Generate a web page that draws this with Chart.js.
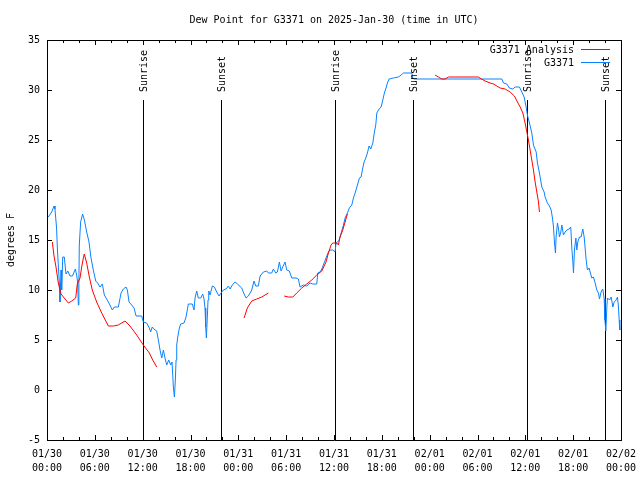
<!DOCTYPE html>
<html>
<head>
<meta charset="utf-8">
<title>Dew Point for G3371</title>
<script src="https://cdn.jsdelivr.net/npm/chart.js@4.4.1/dist/chart.umd.min.js"></script>
<style>
  html, body { margin: 0; padding: 0; background: #fff; }
</style>
</head>
<body>
<canvas id="chart" width="640" height="480"></canvas>
<script>
// Hours since 2025-01-30 00:00 UTC, dew point in degrees F
const obsHours = [
  0.16, 0.59, 0.88, 1.0, 1.2, 1.3, 1.45, 1.55, 1.63, 1.76, 1.84, 1.97, 2.17, 2.38, 2.6, 2.89,
  3.2, 3.55, 3.72, 3.85, 3.93, 4.0, 4.05, 4.22, 4.47, 4.69, 4.98, 5.27, 5.52, 5.81, 6.11, 6.36,
  6.65, 6.94, 7.19, 7.7, 8.2, 8.45, 8.95, 9.29, 9.58, 9.91, 10.08, 10.29, 10.62, 10.92, 11.17, 11.88,
  12.08, 12.5, 12.84, 13.0, 13.2, 13.55, 13.76, 13.97, 14.18, 14.39, 14.6, 14.8, 15.02, 15.27, 15.52, 15.68,
  15.85, 15.98, 16.1, 16.19, 16.27, 16.4, 16.6, 16.77, 17.19, 17.44, 17.73, 18.23, 18.44, 18.57, 18.78, 18.98,
  19.28, 19.53, 19.7, 19.82, 19.91, 19.99, 20.11, 20.2, 20.29, 20.45, 20.74, 20.99, 21.29, 21.58, 21.83, 22.12,
  22.46, 22.75, 22.96, 23.25, 23.59, 23.88, 24.43, 24.72, 24.97, 25.26, 25.68, 25.97, 26.18, 26.51, 26.73, 27.14,
  27.57, 27.77, 28.19, 28.39, 28.7, 28.9, 29.15, 29.36, 29.57, 29.86, 30.07, 30.4, 30.7, 31.24, 31.53, 31.74,
  32.16, 32.58, 33.0, 33.34, 33.84, 33.96, 34.25, 34.47, 34.76, 35.0, 35.3, 35.5, 35.85, 36.13, 36.26, 36.6,
  36.9, 37.18, 37.39, 37.68, 37.93, 38.23, 38.44, 38.65, 38.94, 39.19, 39.4, 39.56, 39.77, 39.99, 40.19, 40.4,
  40.62, 40.87, 41.07, 41.24, 41.37, 41.66, 41.91, 42.12, 42.32, 42.53, 42.7, 42.91, 43.45, 44.08, 44.42, 44.71,
  45.76, 45.88, 46.0, 57.05, 57.26, 57.68, 58.0, 58.43, 58.72, 59.26, 59.56, 59.85, 60.1, 60.26, 60.52, 60.81,
  61.02, 61.36, 61.52, 61.77, 62.07, 62.36, 62.48, 62.77, 63.02, 63.24, 63.4, 63.53, 63.66, 63.78, 63.86, 64.03,
  64.15, 64.28, 64.45, 64.58, 64.78, 64.99, 65.2, 65.5, 65.7, 65.83, 65.96, 66.04, 66.16, 66.34, 66.46, 66.58,
  66.79, 67.0, 67.21, 67.38, 67.5, 67.63, 67.79, 68.0, 68.13, 68.34, 68.54, 68.76, 68.97, 69.17, 69.3, 69.47,
  69.6, 69.72, 69.89, 69.98, 70.1, 70.22, 70.3, 70.55, 70.77, 70.98, 71.14, 71.39, 71.56, 71.68, 71.77, 71.85
];
const obsValues = [
  17.3, 17.8, 18.4, 18.1, 16.2, 14.2, 12.0, 10.7, 8.8, 12.0, 10.0, 13.3, 13.3, 11.6, 11.9, 11.4,
  11.4, 12.1, 11.5, 10.7, 8.5, 10.7, 14.5, 16.8, 17.6, 17.0, 15.8, 14.8, 13.2, 12.0, 10.9, 10.7,
  10.3, 10.6, 9.5, 8.8, 8.0, 8.3, 8.3, 9.7, 10.1, 10.3, 10.0, 8.8, 8.5, 8.2, 7.4, 7.4,
  6.8, 6.7, 6.2, 5.8, 6.3, 6.0, 5.9, 5.0, 4.0, 3.2, 4.0, 3.2, 2.5, 3.0, 2.5, 2.8,
  0.3, -0.7, 1.0, 3.0, 4.5, 5.3, 6.2, 6.6, 6.7, 7.3, 8.6, 8.6, 8.0, 9.2, 9.9, 9.2,
  9.2, 9.6, 9.1, 8.2, 6.3, 5.2, 7.3, 9.0, 9.9, 9.5, 10.4, 10.3, 9.8, 9.4, 9.7, 10.0,
  10.1, 10.4, 10.1, 10.5, 10.8, 10.6, 10.2, 9.6, 9.2, 9.4, 10.0, 10.9, 10.4, 10.4, 11.4, 11.8,
  11.9, 11.7, 11.7, 12.1, 11.7, 11.8, 12.8, 11.9, 12.3, 12.8, 12.0, 11.9, 11.2, 11.2, 11.1, 10.3,
  10.5, 10.4, 10.7, 10.6, 10.6, 11.7, 11.8, 12.1, 12.7, 13.2, 13.8, 14.0, 14.0, 13.8, 14.7, 14.9,
  15.7, 16.5, 17.2, 17.7, 18.2, 18.5, 19.2, 19.7, 20.5, 21.2, 21.3, 22.0, 22.8, 23.2, 23.7, 24.4,
  24.1, 24.7, 25.8, 26.5, 27.7, 28.1, 28.3, 29.0, 29.7, 30.2, 30.7, 31.1, 31.2, 31.3, 31.5, 31.7,
  31.7, 31.2, 31.1, 31.1, 30.7, 30.6, 30.2, 30.1, 30.3, 30.3, 29.8, 29.3, 28.3, 27.5, 26.7, 25.7,
  24.5, 23.8, 22.7, 21.7, 20.3, 19.8, 19.3, 18.7, 18.4, 18.0, 17.2, 16.3, 14.7, 13.7, 15.3, 16.7,
  16.2, 15.3, 15.8, 16.5, 15.5, 15.8, 16.0, 16.1, 16.3, 14.2, 12.8, 11.7, 14.0, 15.2, 14.0, 14.8,
  15.3, 15.3, 16.1, 15.3, 14.2, 13.0, 12.0, 12.2, 11.8, 11.2, 11.3, 10.7, 10.0, 9.7, 9.1, 9.7,
  10.0, 10.1, 9.1, 7.0, 5.9, 8.2, 9.2, 9.0, 9.3, 8.3, 8.8, 9.0, 9.3, 8.3, 7.0, 6.0
];

// analysis series, null marks a gap
const anaHours = [
  0.67, 0.88, 1.13, 1.42, 1.76, 2.26, 2.68, 3.1, 3.6, 3.8, 4.14, 4.35, 4.56, 4.68, 4.98, 5.31,
  5.68, 6.23, 6.86, 7.7, 8.32, 8.95, 9.79, 10.41, 11.25, 12.08, 12.84, 13.26, 13.76, 19.0,
  24.72, 25.13, 25.68, 26.31, 26.94, 27.77, 28.7,
  29.74, 30.28, 30.83, 31.33, 31.96, 32.58, 33.21, 33.84, 34.47, 35.0, 35.3, 35.63, 35.85, 36.35, 36.55,
  36.76, 37.1, 37.68, 43.0,
  48.68, 49.1, 49.52, 49.94, 50.35, 54.1, 54.5, 54.96, 55.58, 56.0, 56.42, 56.84, 57.47, 58.09, 58.63, 59.01,
  59.35, 59.69, 59.97, 60.19, 60.39, 60.6, 60.81, 61.02, 61.23, 61.44, 61.65, 61.77
];
const anaValues = [
  14.8, 13.4, 12.3, 10.7, 9.6, 9.1, 8.7, 8.9, 9.2, 10.6, 11.2, 12.3, 13.2, 13.6, 12.7, 11.3,
  10.0, 8.8, 7.7, 6.4, 6.4, 6.5, 6.9, 6.4, 5.5, 4.5, 3.7, 3.0, 2.3, null,
  7.2, 8.2, 8.9, 9.1, 9.3, 9.7, null,
  9.4, 9.3, 9.3, 9.7, 10.2, 10.6, 11.0, 11.5, 11.9, 12.8, 13.7, 14.5, 14.7, 14.7, 14.5,
  15.3, 16.0, 17.6, null,
  31.5, 31.3, 31.1, 31.1, 31.3, 31.3, 31.1, 30.9, 30.7, 30.6, 30.4, 30.2, 30.1, 29.8, 29.4, 28.8,
  28.3, 27.7, 26.7, 25.8, 25.0, 24.0, 23.0, 22.0, 20.8, 19.8, 18.8, 17.8
];

const sunNames = ['Sunrise', 'Sunset', 'Sunrise', 'Sunset', 'Sunrise', 'Sunset'];
const sunHours = [12.08, 21.86, 36.16, 45.95, 60.17, 70.03];
const sunLineTop = 29;
const sunLabelAt = 29.8;

const xTickLabels = [
  ['01/30', '00:00'], ['01/30', '06:00'], ['01/30', '12:00'], ['01/30', '18:00'],
  ['01/31', '00:00'], ['01/31', '06:00'], ['01/31', '12:00'], ['01/31', '18:00'],
  ['02/01', '00:00'], ['02/01', '06:00'], ['02/01', '12:00'], ['02/01', '18:00'],
  ['02/02', '00:00']
];

const MONO = "'DejaVu Sans Mono', monospace";
const FONT = { family: MONO, size: 10 };

const toPoints = (xs, ys) => xs.map((h, i) => ({ x: h, y: ys[i] }));

// gnuplot-style ticks pointing into the plot
const inwardTicks = {
  id: 'inwardTicks',
  afterDatasetsDraw(chart) {
    const { ctx, chartArea: a, scales: { x, y } } = chart;
    ctx.save();
    ctx.strokeStyle = '#000';
    ctx.lineWidth = 1;
    ctx.beginPath();
    for (let h = x.min; h <= x.max; h += 2) {
      const px = Math.round(x.getPixelForValue(h)) + 0.5;
      const len = h % 6 === 0 ? 5 : 3;
      ctx.moveTo(px, a.bottom); ctx.lineTo(px, a.bottom - len);
      ctx.moveTo(px, a.top); ctx.lineTo(px, a.top + len);
    }
    y.ticks.forEach(t => {
      const py = Math.round(y.getPixelForValue(t.value)) + 0.5;
      ctx.moveTo(a.left, py); ctx.lineTo(a.left + 5, py);
      ctx.moveTo(a.right, py); ctx.lineTo(a.right - 5, py);
    });
    ctx.stroke();
    ctx.restore();
  }
};

// sunrise / sunset markers, drawn under the data
const sunMarks = {
  id: 'sunMarks',
  beforeDatasetsDraw(chart) {
    const { ctx, scales: { x, y } } = chart;
    ctx.save();
    ctx.strokeStyle = '#000';
    ctx.lineWidth = 1;
    ctx.beginPath();
    sunHours.forEach(h => {
      const px = Math.round(x.getPixelForValue(h)) + 0.5;
      ctx.moveTo(px, y.getPixelForValue(sunLineTop));
      ctx.lineTo(px, y.getPixelForValue(y.min));
    });
    ctx.stroke();
    ctx.restore();
  },
  afterDatasetsDraw(chart) {
    const { ctx, scales: { x, y } } = chart;
    ctx.save();
    ctx.font = '10px ' + MONO;
    ctx.fillStyle = '#000';
    ctx.textAlign = 'left';
    ctx.textBaseline = 'middle';
    sunNames.forEach((name, i) => {
      ctx.save();
      ctx.translate(Math.round(x.getPixelForValue(sunHours[i])) + 1, y.getPixelForValue(sunLabelAt));
      ctx.rotate(-Math.PI / 2);
      ctx.fillText(name, 0, 0);
      ctx.restore();
    });
    ctx.restore();
  }
};

const keyBox = {
  id: 'keyBox',
  afterDraw(chart) {
    const { ctx, chartArea: a } = chart;
    ctx.save();
    ctx.font = '10px ' + MONO;
    ctx.textAlign = 'right';
    ctx.textBaseline = 'middle';
    ctx.lineWidth = 1;
    chart.data.datasets.forEach((ds, i) => {
      const ty = a.top + 10 + i * 13;
      ctx.fillStyle = '#000';
      ctx.fillText(ds.label, a.right - 47, ty);
      ctx.strokeStyle = ds.borderColor;
      ctx.beginPath();
      ctx.moveTo(a.right - 40, ty - 0.5);
      ctx.lineTo(a.right - 11, ty - 0.5);
      ctx.stroke();
    });
    ctx.restore();
  }
};

new Chart(document.getElementById('chart'), {
  type: 'line',
  data: {
    datasets: [{
      label: 'G3371 Analysis',
      data: toPoints(anaHours, anaValues),
      borderColor: '#ff0000',
      borderWidth: 1,
      pointRadius: 0,
      spanGaps: false,
      order: 0
    }, {
      label: 'G3371',
      data: toPoints(obsHours, obsValues),
      borderColor: '#0a82ff',
      borderWidth: 1,
      pointRadius: 0,
      order: 1
    }]
  },
  options: {
    responsive: false,
    animation: false,
    devicePixelRatio: 1,
    layout: { padding: 0, autoPadding: false },
    elements: { line: { tension: 0 } },
    plugins: {
      legend: { display: false },
      tooltip: { enabled: false },
      title: {
        display: true,
        fullSize: false,
        text: 'Dew Point for G3371 on 2025-Jan-30 (time in UTC)',
        color: '#000',
        font: { family: MONO, size: 10, weight: 'normal' },
        padding: { top: 14, bottom: 0 }
      }
    },
    scales: {
      x: {
        type: 'linear',
        position: 'bottom',
        min: 0,
        max: 72,
        afterFit: s => {
          s.height = 40;
          // end labels may overhang the plot, as in gnuplot
          s.paddingLeft = 0;
          s.paddingRight = 0;
        },
        grid: { display: false, drawTicks: false },
        border: { display: true, color: '#000', width: 1 },
        ticks: {
          stepSize: 6,
          autoSkip: false,
          maxRotation: 0,
          padding: 8,
          color: '#000',
          font: { family: MONO, size: 10, lineHeight: 1.37 },
          callback: (v, i) => xTickLabels[i]
        }
      },
      y: {
        type: 'linear',
        position: 'left',
        min: -5,
        max: 35,
        afterFit: s => { s.width = 47; },
        grid: { display: false, drawTicks: false },
        border: { display: true, color: '#000', width: 1 },
        title: {
          display: true,
          text: 'degrees F',
          color: '#000',
          font: FONT,
          padding: { top: 5, bottom: 0 }
        },
        ticks: { stepSize: 5, padding: 7, color: '#000', font: FONT }
      },
      x2: {
        type: 'linear',
        position: 'top',
        min: 0,
        max: 72,
        afterFit: s => { s.height = 14; },
        grid: { display: false, drawTicks: false },
        border: { display: true, color: '#000', width: 1 },
        ticks: { display: false }
      },
      y2: {
        type: 'linear',
        position: 'right',
        min: -5,
        max: 35,
        afterFit: s => { s.width = 19; },
        grid: { display: false, drawTicks: false },
        border: { display: true, color: '#000', width: 1 },
        ticks: { display: false }
      }
    }
  },
  plugins: [inwardTicks, sunMarks, keyBox]
});
</script>
</body>
</html>
